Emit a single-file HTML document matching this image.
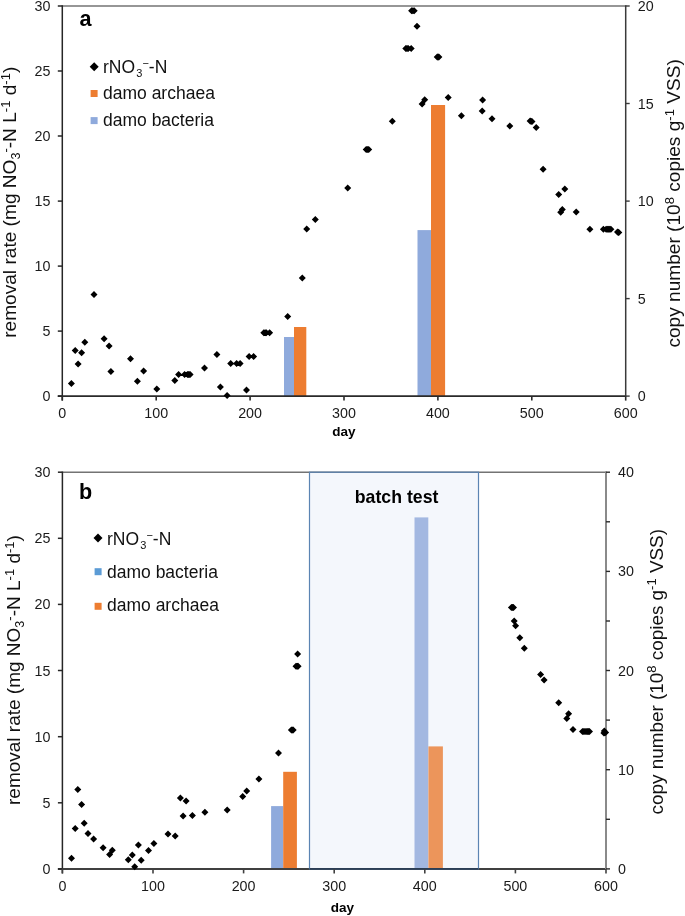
<!DOCTYPE html>
<html><head><meta charset="utf-8"><style>
html,body{margin:0;padding:0;background:#fff;width:685px;height:916px;overflow:hidden}
svg{display:block;will-change:transform}
text{font-family:"Liberation Sans", sans-serif;fill:#000}
.t{font-size:14.3px;fill:#1a1a1a}
.day{font-size:13.5px;font-weight:bold}
.pl{font-size:21.6px;font-weight:bold}
.lg{font-size:17.5px;fill:#111}
.lsub{font-size:11px}
.lsup{font-size:11px}
.yt{font-size:19.1px;fill:#111}
.sub{font-size:12.5px}
.sup{font-size:13px}
.bt{font-size:17.7px;font-weight:bold}
</style></head><body>
<svg width="685" height="916" viewBox="0 0 685 916">
<rect x="284.0" y="337.0" width="10.0" height="59.1" fill="#8faadc"/>
<rect x="294.0" y="327.0" width="12.3" height="69.1" fill="#ed7d31"/>
<rect x="417.5" y="230.1" width="13.5" height="166.0" fill="#8faadc"/>
<rect x="431.0" y="105.0" width="14.1" height="291.1" fill="#ed7d31"/>
<line x1="62.3" y1="6.0" x2="625.7" y2="6.0" stroke="#737373" stroke-width="1.6"/>
<line x1="62.3" y1="5.2" x2="62.3" y2="400.6" stroke="#262626" stroke-width="1.5"/>
<line x1="57.8" y1="396.1" x2="625.7" y2="396.1" stroke="#2a2a2a" stroke-width="1.7"/>
<line x1="625.7" y1="5.2" x2="625.7" y2="396.1" stroke="#3a3a3a" stroke-width="1.5"/>
<path d="M71.4 379.9L74.9 383.4L71.4 386.9L67.9 383.4ZM75.2 346.9L78.7 350.4L75.2 353.9L71.7 350.4ZM78.1 360.4L81.6 363.9L78.1 367.4L74.6 363.9ZM81.6 349.2L85.1 352.7L81.6 356.2L78.1 352.7ZM84.8 338.8L88.3 342.3L84.8 345.8L81.3 342.3ZM94.0 291.1L97.5 294.6L94.0 298.1L90.5 294.6ZM104.1 335.2L107.6 338.7L104.1 342.2L100.6 338.7ZM109.1 342.6L112.6 346.1L109.1 349.6L105.6 346.1ZM110.9 368.0L114.4 371.5L110.9 375.0L107.4 371.5ZM130.5 355.3L134.0 358.8L130.5 362.3L127.0 358.8ZM137.4 377.7L140.9 381.2L137.4 384.7L133.9 381.2ZM143.6 367.6L147.1 371.1L143.6 374.6L140.1 371.1ZM156.8 385.4L160.3 388.9L156.8 392.4L153.3 388.9ZM174.8 376.9L178.3 380.4L174.8 383.9L171.3 380.4ZM178.6 371.1L182.1 374.6L178.6 378.1L175.1 374.6ZM184.6 371.1L188.1 374.6L184.6 378.1L181.1 374.6ZM187.5 371.1L191.0 374.6L187.5 378.1L184.0 374.6ZM190.1 371.1L193.6 374.6L190.1 378.1L186.6 374.6ZM204.5 364.5L208.0 368.0L204.5 371.5L201.0 368.0ZM216.9 351.1L220.4 354.6L216.9 358.1L213.4 354.6ZM220.4 383.5L223.9 387.0L220.4 390.5L216.9 387.0ZM227.1 392.1L230.6 395.6L227.1 399.1L223.6 395.6ZM230.7 360.1L234.2 363.6L230.7 367.1L227.2 363.6ZM236.6 360.1L240.1 363.6L236.6 367.1L233.1 363.6ZM240.1 360.1L243.6 363.6L240.1 367.1L236.6 363.6ZM246.5 386.4L250.0 389.9L246.5 393.4L243.0 389.9ZM249.1 353.1L252.6 356.6L249.1 360.1L245.6 356.6ZM253.6 353.1L257.1 356.6L253.6 360.1L250.1 356.6ZM263.8 329.3L267.3 332.8L263.8 336.3L260.3 332.8ZM266.3 329.3L269.8 332.8L266.3 336.3L262.8 332.8ZM269.6 329.3L273.1 332.8L269.6 336.3L266.1 332.8ZM287.7 312.9L291.2 316.4L287.7 319.9L284.2 316.4ZM302.3 274.6L305.8 278.1L302.3 281.6L298.8 278.1ZM306.7 225.4L310.2 228.9L306.7 232.4L303.2 228.9ZM315.3 216.0L318.8 219.5L315.3 223.0L311.8 219.5ZM347.7 184.4L351.2 187.9L347.7 191.4L344.2 187.9ZM366.2 145.9L369.7 149.4L366.2 152.9L362.7 149.4ZM368.7 145.9L372.2 149.4L368.7 152.9L365.2 149.4ZM392.3 117.8L395.8 121.3L392.3 124.8L388.8 121.3ZM405.8 45.0L409.3 48.5L405.8 52.0L402.3 48.5ZM408.2 45.0L411.7 48.5L408.2 52.0L404.7 48.5ZM411.2 45.0L414.7 48.5L411.2 52.0L407.7 48.5ZM411.6 7.2L415.1 10.7L411.6 14.2L408.1 10.7ZM414.2 7.2L417.7 10.7L414.2 14.2L410.7 10.7ZM417.0 22.8L420.5 26.3L417.0 29.8L413.5 26.3ZM424.7 96.2L428.2 99.7L424.7 103.2L421.2 99.7ZM422.1 100.6L425.6 104.1L422.1 107.6L418.6 104.1ZM437.2 53.6L440.7 57.1L437.2 60.6L433.7 57.1ZM438.9 53.6L442.4 57.1L438.9 60.6L435.4 57.1ZM448.2 94.0L451.7 97.5L448.2 101.0L444.7 97.5ZM461.4 112.3L464.9 115.8L461.4 119.3L457.9 115.8ZM482.6 96.5L486.1 100.0L482.6 103.5L479.1 100.0ZM482.2 107.5L485.7 111.0L482.2 114.5L478.7 111.0ZM492.0 115.2L495.5 118.7L492.0 122.2L488.5 118.7ZM509.8 122.5L513.3 126.0L509.8 129.5L506.3 126.0ZM530.1 117.5L533.6 121.0L530.1 124.5L526.6 121.0ZM532.0 118.0L535.5 121.5L532.0 125.0L528.5 121.5ZM536.2 124.1L539.7 127.6L536.2 131.1L532.7 127.6ZM543.1 165.8L546.6 169.3L543.1 172.8L539.6 169.3ZM564.8 185.5L568.3 189.0L564.8 192.5L561.3 189.0ZM558.7 191.0L562.2 194.5L558.7 198.0L555.2 194.5ZM562.3 205.9L565.8 209.4L562.3 212.9L558.8 209.4ZM560.7 208.8L564.2 212.3L560.7 215.8L557.2 212.3ZM576.2 208.6L579.7 212.1L576.2 215.6L572.7 212.1ZM589.9 225.7L593.4 229.2L589.9 232.7L586.4 229.2ZM603.4 225.7L606.9 229.2L603.4 232.7L599.9 229.2ZM606.1 225.7L609.6 229.2L606.1 232.7L602.6 229.2ZM608.5 225.7L612.0 229.2L608.5 232.7L605.0 229.2ZM610.9 225.7L614.4 229.2L610.9 232.7L607.4 229.2ZM617.5 228.6L621.0 232.1L617.5 235.6L614.0 232.1ZM618.8 228.9L622.3 232.4L618.8 235.9L615.3 232.4ZM188.8 371.1L192.3 374.6L188.8 378.1L185.3 374.6ZM265.1 329.3L268.6 332.8L265.1 336.3L261.6 332.8ZM367.4 145.9L370.9 149.4L367.4 152.9L363.9 149.4ZM407.0 45.0L410.5 48.5L407.0 52.0L403.5 48.5ZM412.9 7.2L416.4 10.7L412.9 14.2L409.4 10.7ZM438.0 53.6L441.5 57.1L438.0 60.6L434.5 57.1ZM531.0 117.8L534.5 121.2L531.0 124.8L527.5 121.2ZM607.3 225.7L610.8 229.2L607.3 232.7L603.8 229.2ZM609.7 225.7L613.2 229.2L609.7 232.7L606.2 229.2ZM618.1 228.8L621.6 232.2L618.1 235.8L614.6 232.2Z" fill="#000"/>
<line x1="57.8" y1="396.1" x2="62.3" y2="396.1" stroke="#262626" stroke-width="1.5"/>
<text x="50.5" y="401.1" text-anchor="end" class="t">0</text>
<line x1="57.8" y1="331.1" x2="62.3" y2="331.1" stroke="#262626" stroke-width="1.5"/>
<text x="50.5" y="336.1" text-anchor="end" class="t">5</text>
<line x1="57.8" y1="266.1" x2="62.3" y2="266.1" stroke="#262626" stroke-width="1.5"/>
<text x="50.5" y="271.1" text-anchor="end" class="t">10</text>
<line x1="57.8" y1="201.1" x2="62.3" y2="201.1" stroke="#262626" stroke-width="1.5"/>
<text x="50.5" y="206.1" text-anchor="end" class="t">15</text>
<line x1="57.8" y1="136.0" x2="62.3" y2="136.0" stroke="#262626" stroke-width="1.5"/>
<text x="50.5" y="141.0" text-anchor="end" class="t">20</text>
<line x1="57.8" y1="71.0" x2="62.3" y2="71.0" stroke="#262626" stroke-width="1.5"/>
<text x="50.5" y="76.0" text-anchor="end" class="t">25</text>
<line x1="57.8" y1="6.0" x2="62.3" y2="6.0" stroke="#262626" stroke-width="1.5"/>
<text x="50.5" y="11.0" text-anchor="end" class="t">30</text>
<line x1="625.7" y1="396.1" x2="629.7" y2="396.1" stroke="#3a3a3a" stroke-width="1.4"/>
<line x1="625.7" y1="298.6" x2="629.7" y2="298.6" stroke="#3a3a3a" stroke-width="1.4"/>
<line x1="625.7" y1="201.1" x2="629.7" y2="201.1" stroke="#3a3a3a" stroke-width="1.4"/>
<line x1="625.7" y1="103.5" x2="629.7" y2="103.5" stroke="#3a3a3a" stroke-width="1.4"/>
<line x1="625.7" y1="6.0" x2="629.7" y2="6.0" stroke="#3a3a3a" stroke-width="1.4"/>
<text x="637.8" y="401.1" class="t">0</text>
<text x="637.8" y="303.6" class="t">5</text>
<text x="637.8" y="206.1" class="t">10</text>
<text x="637.8" y="108.5" class="t">15</text>
<text x="637.8" y="11.0" class="t">20</text>
<line x1="62.3" y1="396.1" x2="62.3" y2="400.6" stroke="#2a2a2a" stroke-width="1.6"/>
<text x="62.3" y="417.8" text-anchor="middle" class="t">0</text>
<line x1="156.2" y1="396.1" x2="156.2" y2="400.6" stroke="#2a2a2a" stroke-width="1.6"/>
<text x="156.2" y="417.8" text-anchor="middle" class="t">100</text>
<line x1="250.1" y1="396.1" x2="250.1" y2="400.6" stroke="#2a2a2a" stroke-width="1.6"/>
<text x="250.1" y="417.8" text-anchor="middle" class="t">200</text>
<line x1="344.0" y1="396.1" x2="344.0" y2="400.6" stroke="#2a2a2a" stroke-width="1.6"/>
<text x="344.0" y="417.8" text-anchor="middle" class="t">300</text>
<line x1="437.9" y1="396.1" x2="437.9" y2="400.6" stroke="#2a2a2a" stroke-width="1.6"/>
<text x="437.9" y="417.8" text-anchor="middle" class="t">400</text>
<line x1="531.8" y1="396.1" x2="531.8" y2="400.6" stroke="#2a2a2a" stroke-width="1.6"/>
<text x="531.8" y="417.8" text-anchor="middle" class="t">500</text>
<line x1="625.7" y1="396.1" x2="625.7" y2="400.6" stroke="#2a2a2a" stroke-width="1.6"/>
<text x="625.7" y="417.8" text-anchor="middle" class="t">600</text>
<text x="344.0" y="435.8" text-anchor="middle" class="day">day</text>
<text x="79.5" y="25.9" class="pl">a</text>
<path d="M94.2 62.3L98.7 66.8L94.2 71.3L89.7 66.8Z" fill="#000"/>
<text x="103.0" y="73.4" class="lg">rNO<tspan class="lsub" dx="1.2" dy="4">3</tspan><tspan class="lsup" dy="-10.5">−</tspan><tspan dy="6.5">-N</tspan></text>
<rect x="90.6" y="90.0" width="7" height="7" fill="#ed7d31"/>
<text x="103.0" y="99.4" class="lg">damo archaea</text>
<rect x="90.6" y="117.1" width="7" height="7" fill="#8faadc"/>
<text x="103.0" y="126.2" class="lg">damo bacteria</text>
<text transform="translate(16.0,337.8) rotate(-90)" class="yt">removal rate (mg NO<tspan class="sub" dy="3.5">3</tspan><tspan class="sup" dy="-10">-</tspan><tspan dy="6.5">-N L</tspan><tspan class="sup" dy="-6.5">-1</tspan><tspan dy="6.5"> d</tspan><tspan class="sup" dy="-6.5">-1</tspan><tspan dy="6.5">)</tspan></text>
<text transform="translate(680.2,347.6) rotate(-90)" class="yt">copy number (10<tspan class="sup" dy="-6.5">8</tspan><tspan dy="6.5"> copies g</tspan><tspan class="sup" dy="-6.5">-1</tspan><tspan dy="6.5"> VSS)</tspan></text>
<rect x="309.5" y="472.2" width="169.0" height="396.7" fill="#f4f7fc"/>
<rect x="271.1" y="806.1" width="12.1" height="62.8" fill="#8faadc"/>
<rect x="283.2" y="771.8" width="13.7" height="97.1" fill="#ed7d31"/>
<rect x="414.5" y="517.4" width="13.8" height="351.5" fill="#a3b8e1"/>
<rect x="428.4" y="746.4" width="14.5" height="122.5" fill="#ec955b"/>
<line x1="62.4" y1="472.2" x2="606.0" y2="472.2" stroke="#737373" stroke-width="1.6"/>
<line x1="62.4" y1="471.4" x2="62.4" y2="873.4" stroke="#262626" stroke-width="1.5"/>
<line x1="57.9" y1="868.9" x2="606.0" y2="868.9" stroke="#404040" stroke-width="2.0"/>
<line x1="606.0" y1="471.4" x2="606.0" y2="868.9" stroke="#8a8a8a" stroke-width="2.0"/>
<rect x="309.5" y="472.2" width="169.0" height="396.7" fill="none" stroke="#5b84b3" stroke-width="1.2"/>
<line x1="309.5" y1="868.9" x2="478.5" y2="868.9" stroke="#2c3e55" stroke-width="1.7"/>
<path d="M71.5 854.7L75.0 858.2L71.5 861.7L68.0 858.2ZM75.2 825.1L78.7 828.6L75.2 832.1L71.7 828.6ZM77.8 786.1L81.3 789.6L77.8 793.1L74.3 789.6ZM81.6 800.9L85.1 804.4L81.6 807.9L78.1 804.4ZM84.2 819.7L87.7 823.2L84.2 826.7L80.7 823.2ZM88.0 829.9L91.5 833.4L88.0 836.9L84.5 833.4ZM93.6 835.5L97.1 839.0L93.6 842.5L90.1 839.0ZM103.1 844.2L106.6 847.7L103.1 851.2L99.6 847.7ZM112.3 846.7L115.8 850.2L112.3 853.7L108.8 850.2ZM109.6 851.1L113.1 854.6L109.6 858.1L106.1 854.6ZM128.3 856.2L131.8 859.7L128.3 863.2L124.8 859.7ZM132.3 851.4L135.8 854.9L132.3 858.4L128.8 854.9ZM138.4 841.6L141.9 845.1L138.4 848.6L134.9 845.1ZM134.7 863.2L138.2 866.7L134.7 870.2L131.2 866.7ZM141.2 856.8L144.7 860.3L141.2 863.8L137.7 860.3ZM148.5 846.9L152.0 850.4L148.5 853.9L145.0 850.4ZM153.9 839.9L157.4 843.4L153.9 846.9L150.4 843.4ZM168.0 830.6L171.5 834.1L168.0 837.6L164.5 834.1ZM175.2 832.6L178.7 836.1L175.2 839.6L171.7 836.1ZM180.4 794.4L183.9 797.9L180.4 801.4L176.9 797.9ZM186.1 797.6L189.6 801.1L186.1 804.6L182.6 801.1ZM183.1 812.5L186.6 816.0L183.1 819.5L179.6 816.0ZM192.4 812.0L195.9 815.5L192.4 819.0L188.9 815.5ZM204.9 808.8L208.4 812.3L204.9 815.8L201.4 812.3ZM227.2 806.4L230.7 809.9L227.2 813.4L223.7 809.9ZM242.7 793.1L246.2 796.6L242.7 800.1L239.2 796.6ZM246.7 787.5L250.2 791.0L246.7 794.5L243.2 791.0ZM258.9 775.6L262.4 779.1L258.9 782.6L255.4 779.1ZM278.5 749.6L282.0 753.1L278.5 756.6L275.0 753.1ZM291.4 726.6L294.9 730.1L291.4 733.6L287.9 730.1ZM293.2 726.6L296.7 730.1L293.2 733.6L289.7 730.1ZM296.0 662.7L299.5 666.2L296.0 669.7L292.5 666.2ZM298.1 662.7L301.6 666.2L298.1 669.7L294.6 666.2ZM297.6 650.5L301.1 654.0L297.6 657.5L294.1 654.0ZM511.4 604.0L514.9 607.5L511.4 611.0L507.9 607.5ZM513.5 604.0L517.0 607.5L513.5 611.0L510.0 607.5ZM514.2 617.5L517.7 621.0L514.2 624.5L510.7 621.0ZM515.6 622.2L519.1 625.7L515.6 629.2L512.1 625.7ZM519.8 634.3L523.3 637.8L519.8 641.3L516.3 637.8ZM524.3 644.7L527.8 648.2L524.3 651.7L520.8 648.2ZM540.6 670.9L544.1 674.4L540.6 677.9L537.1 674.4ZM544.1 676.5L547.6 680.0L544.1 683.5L540.6 680.0ZM558.7 699.2L562.2 702.7L558.7 706.2L555.2 702.7ZM568.6 710.3L572.1 713.8L568.6 717.3L565.1 713.8ZM566.8 715.1L570.3 718.6L566.8 722.1L563.3 718.6ZM573.0 726.1L576.5 729.6L573.0 733.1L569.5 729.6ZM582.5 727.9L586.0 731.4L582.5 734.9L579.0 731.4ZM585.0 727.9L588.5 731.4L585.0 734.9L581.5 731.4ZM587.5 727.9L591.0 731.4L587.5 734.9L584.0 731.4ZM589.5 727.9L593.0 731.4L589.5 734.9L586.0 731.4ZM604.3 727.5L607.8 731.0L604.3 734.5L600.8 731.0ZM605.6 729.1L609.1 732.6L605.6 736.1L602.1 732.6ZM603.9 729.4L607.4 732.9L603.9 736.4L600.4 732.9ZM292.3 726.6L295.8 730.1L292.3 733.6L288.8 730.1ZM297.1 662.7L300.6 666.2L297.1 669.7L293.6 666.2ZM512.5 604.0L516.0 607.5L512.5 611.0L509.0 607.5ZM583.8 727.9L587.2 731.4L583.8 734.9L580.2 731.4ZM586.2 727.9L589.8 731.4L586.2 734.9L582.8 731.4ZM588.5 727.9L592.0 731.4L588.5 734.9L585.0 731.4ZM604.8 729.2L608.2 732.8L604.8 736.2L601.2 732.8Z" fill="#000"/>
<line x1="57.9" y1="868.9" x2="62.4" y2="868.9" stroke="#262626" stroke-width="1.5"/>
<text x="50.5" y="873.9" text-anchor="end" class="t">0</text>
<line x1="57.9" y1="802.8" x2="62.4" y2="802.8" stroke="#262626" stroke-width="1.5"/>
<text x="50.5" y="807.8" text-anchor="end" class="t">5</text>
<line x1="57.9" y1="736.7" x2="62.4" y2="736.7" stroke="#262626" stroke-width="1.5"/>
<text x="50.5" y="741.7" text-anchor="end" class="t">10</text>
<line x1="57.9" y1="670.5" x2="62.4" y2="670.5" stroke="#262626" stroke-width="1.5"/>
<text x="50.5" y="675.5" text-anchor="end" class="t">15</text>
<line x1="57.9" y1="604.4" x2="62.4" y2="604.4" stroke="#262626" stroke-width="1.5"/>
<text x="50.5" y="609.4" text-anchor="end" class="t">20</text>
<line x1="57.9" y1="538.3" x2="62.4" y2="538.3" stroke="#262626" stroke-width="1.5"/>
<text x="50.5" y="543.3" text-anchor="end" class="t">25</text>
<line x1="57.9" y1="472.2" x2="62.4" y2="472.2" stroke="#262626" stroke-width="1.5"/>
<text x="50.5" y="477.2" text-anchor="end" class="t">30</text>
<line x1="606.0" y1="868.9" x2="610.0" y2="868.9" stroke="#2a2a2a" stroke-width="1.4"/>
<line x1="606.0" y1="819.3" x2="610.0" y2="819.3" stroke="#2a2a2a" stroke-width="1.4"/>
<line x1="606.0" y1="769.7" x2="610.0" y2="769.7" stroke="#2a2a2a" stroke-width="1.4"/>
<line x1="606.0" y1="720.1" x2="610.0" y2="720.1" stroke="#2a2a2a" stroke-width="1.4"/>
<line x1="606.0" y1="670.5" x2="610.0" y2="670.5" stroke="#2a2a2a" stroke-width="1.4"/>
<line x1="606.0" y1="621.0" x2="610.0" y2="621.0" stroke="#2a2a2a" stroke-width="1.4"/>
<line x1="606.0" y1="571.4" x2="610.0" y2="571.4" stroke="#2a2a2a" stroke-width="1.4"/>
<line x1="606.0" y1="521.8" x2="610.0" y2="521.8" stroke="#2a2a2a" stroke-width="1.4"/>
<line x1="606.0" y1="472.2" x2="610.0" y2="472.2" stroke="#2a2a2a" stroke-width="1.4"/>
<text x="618.0" y="873.9" class="t">0</text>
<text x="618.0" y="774.7" class="t">10</text>
<text x="618.0" y="675.5" class="t">20</text>
<text x="618.0" y="576.4" class="t">30</text>
<text x="618.0" y="477.2" class="t">40</text>
<line x1="62.4" y1="868.9" x2="62.4" y2="873.4" stroke="#404040" stroke-width="1.6"/>
<text x="62.4" y="890.6" text-anchor="middle" class="t">0</text>
<line x1="153.0" y1="868.9" x2="153.0" y2="873.4" stroke="#404040" stroke-width="1.6"/>
<text x="153.0" y="890.6" text-anchor="middle" class="t">100</text>
<line x1="243.6" y1="868.9" x2="243.6" y2="873.4" stroke="#404040" stroke-width="1.6"/>
<text x="243.6" y="890.6" text-anchor="middle" class="t">200</text>
<line x1="334.2" y1="868.9" x2="334.2" y2="873.4" stroke="#404040" stroke-width="1.6"/>
<text x="334.2" y="890.6" text-anchor="middle" class="t">300</text>
<line x1="424.8" y1="868.9" x2="424.8" y2="873.4" stroke="#404040" stroke-width="1.6"/>
<text x="424.8" y="890.6" text-anchor="middle" class="t">400</text>
<line x1="515.4" y1="868.9" x2="515.4" y2="873.4" stroke="#404040" stroke-width="1.6"/>
<text x="515.4" y="890.6" text-anchor="middle" class="t">500</text>
<line x1="606.0" y1="868.9" x2="606.0" y2="873.4" stroke="#404040" stroke-width="1.6"/>
<text x="606.0" y="890.6" text-anchor="middle" class="t">600</text>
<text x="342.3" y="912.2" text-anchor="middle" class="day">day</text>
<text x="79.0" y="498.8" class="pl">b</text>
<path d="M98.0 533.5L102.5 538.0L98.0 542.5L93.5 538.0Z" fill="#000"/>
<text x="107.0" y="545.0" class="lg">rNO<tspan class="lsub" dx="1.2" dy="4">3</tspan><tspan class="lsup" dy="-10.5">−</tspan><tspan dy="6.5">-N</tspan></text>
<rect x="94.6" y="568.2" width="7" height="7" fill="#5b9bd5"/>
<text x="107.0" y="577.6" class="lg">damo bacteria</text>
<rect x="94.6" y="602.8" width="7" height="7" fill="#ed7d31"/>
<text x="107.0" y="611.2" class="lg">damo archaea</text>
<text transform="translate(20.0,805.0) rotate(-90)" class="yt" style="font-size:19.0px">removal rate (mg NO<tspan class="sub" dy="3.5">3</tspan><tspan class="sup" dy="-10">-</tspan><tspan dy="6.5">-N L</tspan><tspan class="sup" dy="-6.5">-1</tspan><tspan dy="6.5"> d</tspan><tspan class="sup" dy="-6.5">-1</tspan><tspan dy="6.5">)</tspan></text>
<text transform="translate(662.5,814.5) rotate(-90)" class="yt" style="font-size:18.9px">copy number (10<tspan class="sup" dy="-6.5">8</tspan><tspan dy="6.5"> copies g</tspan><tspan class="sup" dy="-6.5">-1</tspan><tspan dy="6.5"> VSS)</tspan></text>
<text x="396.6" y="503.4" text-anchor="middle" class="bt">batch test</text>
</svg>
</body></html>
